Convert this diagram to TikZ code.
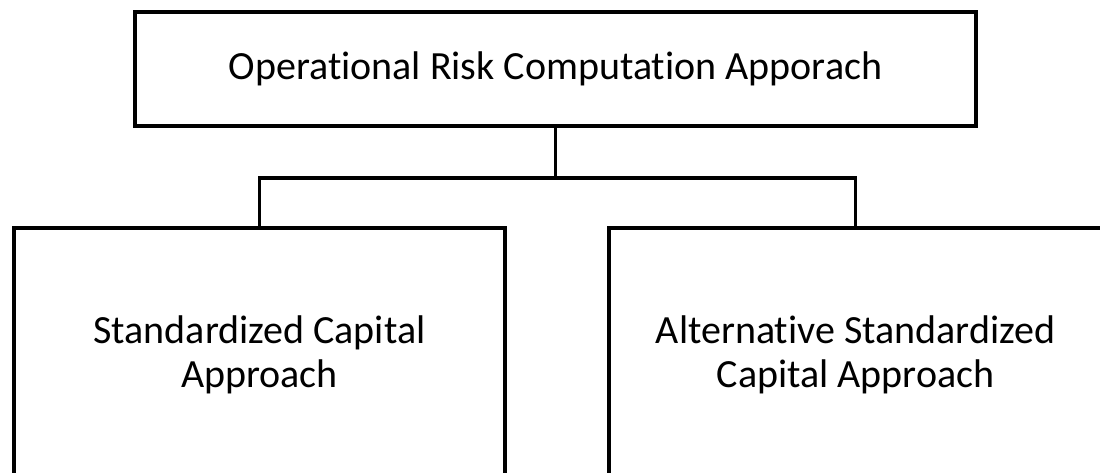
\documentclass[tikz,border=0pt]{standalone}
\usepackage{fontspec}
\setmainfont{Carlito}[Ligatures=NoCommon]
\begin{document}
\begin{tikzpicture}[x=1pt,y=1pt,
  box/.style={draw=black, line width=3.5pt, fill=white, align=center, inner sep=0pt,
    font=\fontsize{40pt}{44pt}\selectfont},
  conn/.style={draw=black, line width=3.5pt}]
\useasboundingbox (0,0) rectangle (1100,-473);
\fill[white] (0,0) rectangle (1100,-473);
\clip (0,0) rectangle (1100,-473);
\node[box, minimum width=841pt, minimum height=114pt] (top) at (555.5,-69) {Operational Risk Computation Apporach};
\node[box, minimum width=491pt, minimum height=254pt] (left) at (259.5,-355) {Standardized Capital\\Approach};
\node[box, minimum width=493pt, minimum height=254pt] (right) at (855.5,-355) {Alternative Standardized\\Capital Approach};
\coordinate (bus) at (555.5,-178);
\draw[conn] (top.south) -- (bus);
\draw[conn] (left.north) |- (bus) -| (right.north);
\end{tikzpicture}
\end{document}
